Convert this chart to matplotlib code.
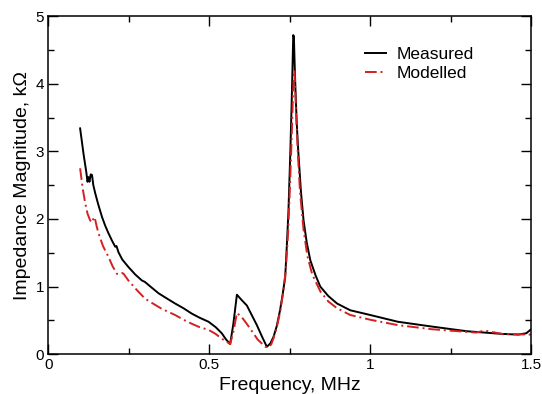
import numpy as np
import matplotlib.pyplot as plt
from matplotlib.ticker import MultipleLocator

plt.rcParams['font.family'] = ['Liberation Sans', 'DejaVu Sans']

# measured impedance (MHz, kOhm)
freq_meas = [0.099, 0.110, 0.118, 0.122, 0.125, 0.128, 0.132, 0.136, 0.140, 0.146,
             0.155, 0.167, 0.177, 0.187, 0.198, 0.208, 0.212, 0.214, 0.218, 0.230,
             0.249, 0.270, 0.291, 0.300, 0.320, 0.343, 0.370, 0.394, 0.420, 0.446,
             0.470, 0.498, 0.520, 0.539, 0.552, 0.565, 0.575, 0.586, 0.601, 0.617,
             0.632, 0.648, 0.665, 0.679, 0.690, 0.700, 0.710, 0.720, 0.728, 0.736,
             0.741, 0.746, 0.752, 0.756, 0.759, 0.761, 0.763, 0.765, 0.768, 0.772,
             0.777, 0.785, 0.793, 0.803, 0.814, 0.830, 0.845, 0.870, 0.897, 0.938,
             1.000, 1.086, 1.190, 1.300, 1.410, 1.460, 1.485, 1.500]
z_meas = [3.34, 2.95, 2.70, 2.55, 2.62, 2.55, 2.66, 2.65, 2.50, 2.38,
          2.22, 2.03, 1.90, 1.79, 1.68, 1.59, 1.60, 1.57, 1.51, 1.40,
          1.29, 1.18, 1.09, 1.07, 0.99, 0.90, 0.82, 0.75, 0.68, 0.60,
          0.54, 0.48, 0.40, 0.31, 0.22, 0.15, 0.45, 0.88, 0.80, 0.72,
          0.58, 0.43, 0.25, 0.11, 0.16, 0.26, 0.42, 0.65, 0.88, 1.14,
          1.60, 2.10, 3.00, 3.70, 4.30, 4.72, 4.70, 4.35, 3.90, 3.40,
          2.97, 2.40, 1.98, 1.65, 1.39, 1.17, 1.00, 0.86, 0.75, 0.65,
          0.58, 0.48, 0.41, 0.34, 0.30, 0.29, 0.31, 0.37]

# modelled impedance (MHz, kOhm)
freq_mod = [0.099, 0.107, 0.115, 0.122, 0.130, 0.136, 0.140, 0.144, 0.150, 0.156,
            0.170, 0.187, 0.200, 0.213, 0.222, 0.230, 0.234, 0.249, 0.275, 0.301,
            0.325, 0.353, 0.394, 0.420, 0.446, 0.470, 0.498, 0.520, 0.539, 0.565,
            0.576, 0.586, 0.601, 0.615, 0.627, 0.650, 0.674, 0.685, 0.693, 0.700,
            0.710, 0.720, 0.730, 0.738, 0.745, 0.751, 0.756, 0.760, 0.763, 0.765,
            0.767, 0.770, 0.775, 0.782, 0.793, 0.805, 0.820, 0.845, 0.870, 0.897,
            0.938, 1.000, 1.086, 1.190, 1.300, 1.330, 1.355, 1.410, 1.500]
z_mod = [2.75, 2.45, 2.23, 2.08, 1.98, 1.95, 2.00, 2.03, 1.90, 1.79,
         1.60, 1.44, 1.30, 1.19, 1.18, 1.20, 1.19, 1.09, 0.95, 0.82,
         0.75, 0.67, 0.58, 0.51, 0.45, 0.40, 0.36, 0.30, 0.23, 0.15,
         0.35, 0.61, 0.55, 0.46, 0.38, 0.22, 0.11, 0.10, 0.15, 0.24,
         0.40, 0.62, 0.92, 1.25, 1.80, 2.50, 3.20, 3.80, 4.15, 4.20,
         3.95, 3.55, 3.00, 2.40, 1.84, 1.45, 1.18, 0.93, 0.78, 0.68,
         0.58, 0.51, 0.43, 0.37, 0.33, 0.32, 0.35, 0.30, 0.29]

fig = plt.figure(figsize=(5.42, 3.94), dpi=100)
ax = fig.add_axes([0.089, 0.101, 0.891, 0.858])

ax.plot(freq_meas, z_meas, color='black', lw=1.4, label='Measured')
ax.plot(freq_mod, z_mod, color='#d42020', lw=1.4, linestyle=(0, (6, 2, 1, 2)), label='Modelled')

ax.set_xlim(0, 1.5)
ax.set_ylim(0, 5)
ax.set_xticks([0, 0.5, 1, 1.5])
ax.set_xticklabels(['0', '0.5', '1', '1.5'])
ax.xaxis.set_minor_locator(MultipleLocator(0.25))
ax.yaxis.set_major_locator(MultipleLocator(1))
ax.yaxis.set_minor_locator(MultipleLocator(0.5))
ax.tick_params(which='both', direction='in', top=True, right=True, labelsize=11, pad=3)
ax.tick_params(which='major', length=7.5, width=1)
ax.tick_params(which='minor', length=4, width=1)
for s in ax.spines.values():
    s.set_linewidth(1.1)

ax.set_xlabel('Frequency, MHz', fontsize=14, labelpad=3)
ax.set_ylabel('Impedance Magnitude, k\u03a9', fontsize=14, labelpad=3)
ax.legend(loc='upper left', bbox_to_anchor=(0.655, 0.91), frameon=False, fontsize=12.5,
          borderpad=0, borderaxespad=0,
          handlelength=1.25, handletextpad=0.6, labelspacing=0.25)

plt.savefig('out.png', dpi=100)
